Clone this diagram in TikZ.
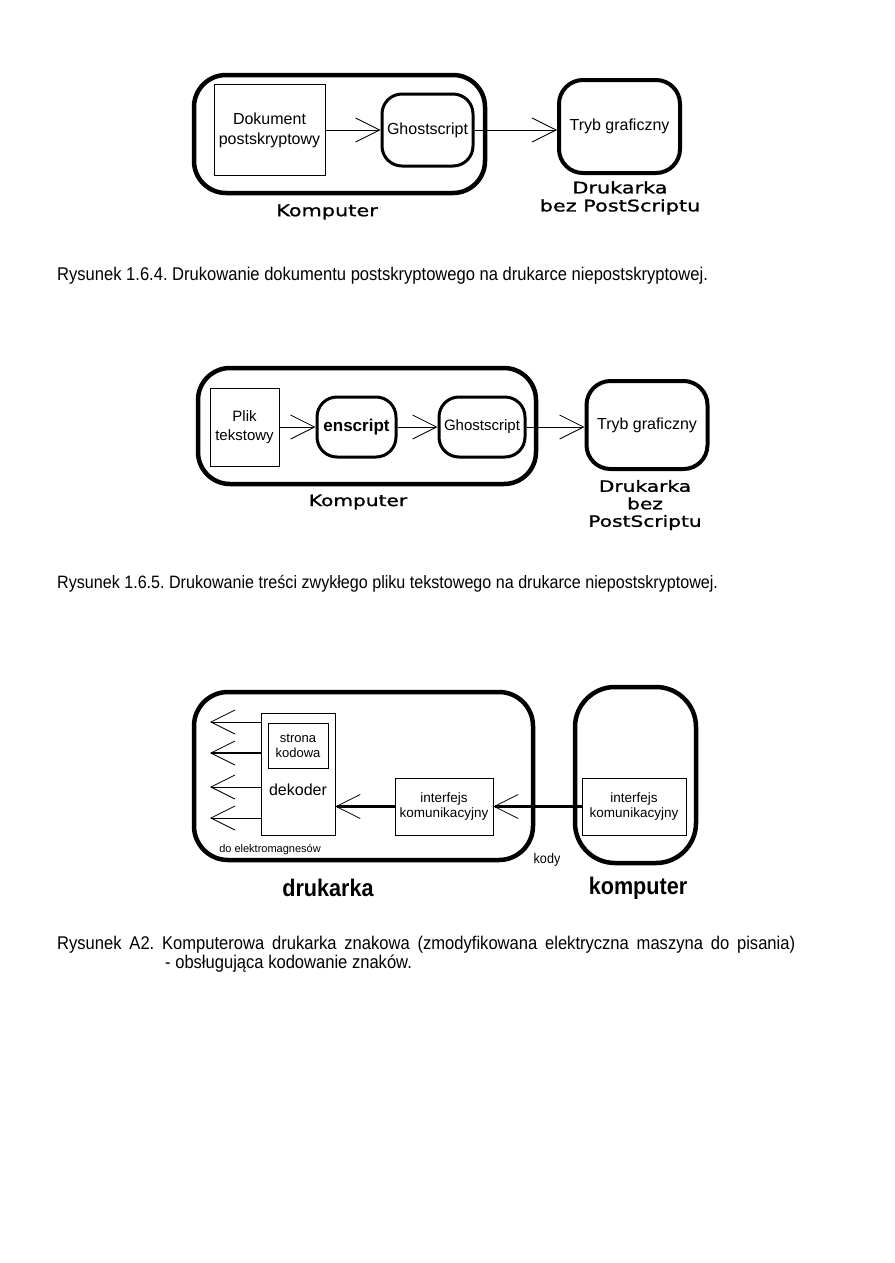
\documentclass[tikz,border=0pt]{standalone}
\usepackage{fontspec}
\setmainfont{Liberation Sans}
\newfontfamily\widefont[FakeStretch=1.3, FakeBold=1.2]{DejaVu Sans}
\newfontfamily\captfont[FakeStretch=0.9]{Liberation Sans}
\usetikzlibrary{arrows.meta}
\frenchspacing

\begin{document}
\begin{tikzpicture}[
		x=1pt, y=-1pt,
		box/.style={draw, line width=0.8pt, inner sep=0pt, align=center},
		frame/.style={draw, line width=4.5pt, rounded corners=32pt, inner sep=0pt, align=center},
		prog/.style={draw, line width=3pt, rounded corners=20pt, inner sep=0pt, align=center},
		barb/.style={-{Straight Barb[length=24pt, width=24pt, line width'=0.8pt]}, line width=0.8pt},
		wide/.style={font=\widefont\fontsize{16}{18}\selectfont, align=center, inner sep=0pt},
		capt/.style={font=\captfont\fontsize{18.4}{20}\selectfont, anchor=base west, inner sep=0pt},
	]
	\useasboundingbox[fill=white] (0,0) rectangle (894,1263);

	% Rysunek 1.6.4
	\node[frame, minimum width=291pt, minimum height=118pt] (komp1) at (339.5,134) {};
	\node[box, minimum width=111pt, minimum height=91pt, font=\fontsize{16}{20}\selectfont] (dok1) at (269.5,130) {Dokument\\postskryptowy};
	\node[prog, minimum width=91pt, minimum height=72pt, font=\fontsize{16}{20}\selectfont] (gs1) at (427.5,130) {Ghostscript};
	\node[frame, line width=4pt, rounded corners=24pt, minimum width=121pt, minimum height=93pt, font=\fontsize{16}{20}\selectfont] (tryb1) at (619.5,126.5) {Tryb graficzny};
	\node[wide] (druk1) at (620,198) {Drukarka\\bez PostScriptu};
	\node[wide] (kompl1) at (327,212) {Komputer};

	\draw[barb] (dok1) -- (gs1);
	\draw[barb] (gs1.east) -- (gs1.east -| tryb1.west);

	\node[capt] (cap1) at (57,280) {Rysunek 1.6.4. Drukowanie dokumentu postskryptowego na drukarce niepostskryptowej.};

	% Rysunek 1.6.5
	\node[frame, minimum width=338pt, minimum height=116pt] (komp2) at (367,426) {};
	\node[box, minimum width=69pt, minimum height=78pt, font=\fontsize{15}{19}\selectfont] (plik2) at (244.5,427) {Plik\\tekstowy};
	\node[prog, minimum width=79pt, minimum height=60pt, font=\bfseries\fontsize{17}{20}\selectfont] (ensc2) at (356.5,427) {enscript};
	\node[prog, minimum width=86pt, minimum height=60pt, font=\fontsize{15}{19}\selectfont] (gs2) at (482,427) {Ghostscript};
	\node[frame, line width=4pt, rounded corners=24pt, minimum width=121pt, minimum height=88pt, font=\fontsize{16}{20}\selectfont] (tryb2) at (647,425) {Tryb graficzny};
	\node[wide, font=\widefont\fontsize{15.5}{17.5}\selectfont] (druk2) at (645,505) {Drukarka\\bez\\PostScriptu};
	\node[wide, font=\widefont\fontsize{15.5}{17.5}\selectfont] (kompl2) at (358,502) {Komputer};

	\draw[barb] (plik2) -- (ensc2);
	\draw[barb] (ensc2) -- (gs2);
	\draw[barb] (gs2.east) -- (gs2.east -| tryb2.west);

	\node[capt, font=\captfont\fontsize{17.9}{20}\selectfont] (cap2) at (57,588) {Rysunek 1.6.5. Drukowanie treści zwykłego pliku tekstowego na drukarce niepostskryptowej.};

	% Rysunek A2
	\node[frame, rounded corners=34pt, minimum width=339pt, minimum height=168pt] (druk3) at (363.5,776) {};
	\node[frame, rounded corners=40pt, minimum width=121pt, minimum height=176pt] (komp3) at (635.5,775) {};
	\node[box, minimum width=74pt, minimum height=122pt] (dek3) at (298,774) {};
	\node[box, minimum width=60pt, minimum height=45pt, font=\fontsize{13}{15}\selectfont] (strona3) at (298,745.5) {strona\\kodowa};
	\node[font=\fontsize{16}{18}\selectfont, inner sep=0pt] (dekl3) at (298,790) {dekoder};
	\node[box, minimum width=98pt, minimum height=57pt, font=\fontsize{13.5}{15}\selectfont] (ifd3) at (444,806.5) {interfejs\\komunikacyjny};
	\node[box, minimum width=104pt, minimum height=57pt, font=\fontsize{13.5}{15}\selectfont] (ifk3) at (634,806.5) {interfejs\\komunikacyjny};

	\draw[barb, line width=2.4pt] (ifk3) -- (ifd3);
	\draw[barb, line width=2.4pt] (ifd3.west) -- (ifd3.west -| dek3.east);
	\foreach \y/\w [count=\i] in {722/0.8, 753/2, 787/0.8, 818/0.8} {
		\coordinate (o\i) at (210,\y);
		\draw[barb, line width=\w pt] (dek3.west |- o\i) -- (o\i);
	}

	\node[font=\fontsize{11}{13}\selectfont, inner sep=0pt] (elm3) at (270,850) {do elektromagnesów};
	\node[font=\captfont\fontsize{14}{16}\selectfont, inner sep=0pt] (kody3) at (547,860) {kody};
	\node[font=\captfont\bfseries\fontsize{24}{26}\selectfont, inner sep=0pt] (drukl3) at (328,888) {drukarka};
	\node[font=\captfont\bfseries\fontsize{24}{26}\selectfont, inner sep=0pt] (kompl3) at (638,888) {komputer};

	\node[capt] (cap3) at (57,949) {\makebox[738pt][s]{Rysunek A2. Komputerowa drukarka znakowa (zmodyfikowana elektryczna maszyna do pisania)}};
	\node[capt] (cap3b) at (165,968) {- obsługująca kodowanie znaków.};
\end{tikzpicture}
\end{document}
